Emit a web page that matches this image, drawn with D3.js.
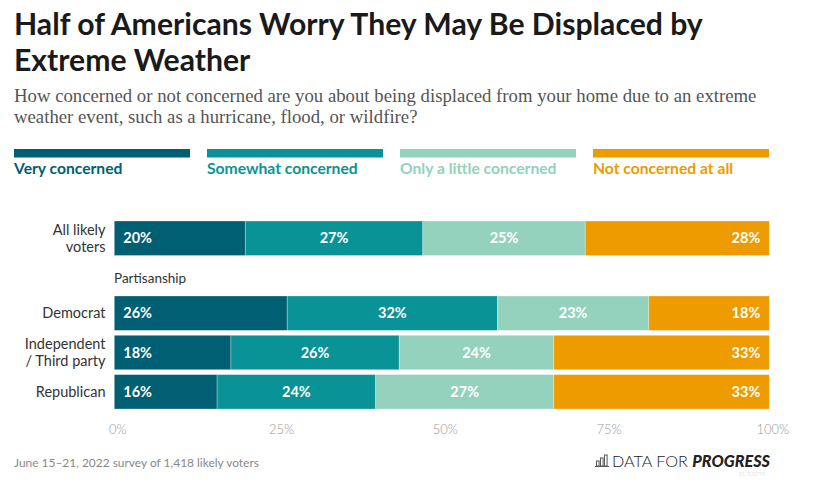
<!DOCTYPE html>
<html>
<head>
<meta charset="utf-8">
<script src="https://cdn.jsdelivr.net/npm/d3@7"></script>
<style>
  html, body { margin: 0; padding: 0; background: #fff; }
  svg { display: block; }
</style>
</head>
<body>
<svg id="chart" width="823" height="504"></svg>
<script>
// ---------- DATA ----------
const titleLines = ["Half of Americans Worry They May Be Displaced by", "Extreme Weather"];
const subtitleLines = [
  "How concerned or not concerned are you about being displaced from your home due to an extreme",
  "weather event, such as a hurricane, flood, or wildfire?"
];
const seriesNames = ["Very concerned", "Somewhat concerned", "Only a little concerned", "Not concerned at all"];
const seriesColors = ["#005f73", "#0a9396", "#94d2bd", "#ee9b00"];
const categories = ["All likely voters", "Democrat", "Independent / Third party", "Republican"];
const categoryLines = [["All likely", "voters"], ["Democrat"], ["Independent", "/ Third party"], ["Republican"]];
const groupOf = ["all", "part", "part", "part"];
const groupLabel = "Partisanship";
const veryConcerned     = [20.0, 26.4, 17.8, 15.7];
const somewhatConcerned = [27.1, 32.1, 25.7, 24.2];
const littleConcerned   = [24.8, 23.1, 23.6, 27.2];
const notConcerned      = [28.1, 18.4, 32.9, 32.9];
const xTicks = [0, 25, 50, 75, 100];
const footnote = "June 15\u201321, 2022 survey of 1,418 likely voters";

const seriesValues = [veryConcerned, somewhatConcerned, littleConcerned, notConcerned];

// ---------- SETUP ----------
const svg = d3.select("#chart");
const sans = "Lato, 'Noto Sans', sans-serif";
const serif = "'Liberation Serif', 'DejaVu Serif', serif";

function fitWidth(sel, target) {
  const n = sel.node();
  const fs = parseFloat(sel.attr("font-size"));
  const w = n.getComputedTextLength();
  if (w > 0) sel.attr("font-size", (fs * target / w).toFixed(2));
  return sel.attr("font-size");
}

// Title
const titleBaselines = [35, 71];
let titleSize = null;
titleLines.forEach((t, i) => {
  const el = svg.append("text")
    .attr("x", 14).attr("y", titleBaselines[i])
    .attr("font-family", sans).attr("font-weight", 700)
    .attr("font-size", titleSize || 25).attr("fill", "#1a1a1a")
    .text(t);
  if (i === 0) titleSize = fitWidth(el, 689);
});

// Subtitle
const subBaselines = [102, 123];
let subSize = null;
subtitleLines.forEach((t, i) => {
  const el = svg.append("text")
    .attr("x", 14).attr("y", subBaselines[i])
    .attr("font-family", serif)
    .attr("font-size", subSize || 16).attr("fill", "#555")
    .text(t);
  if (i === 0) subSize = fitWidth(el, 743);
});

// Legend
const legendX = d3.scaleBand().domain(seriesNames).range([14, 769]).paddingInner(17 / 193);
const legend = svg.append("g");
let legSize = null;
seriesNames.forEach((s, i) => {
  legend.append("rect")
    .attr("x", legendX(s)).attr("y", 149)
    .attr("width", legendX.bandwidth()).attr("height", 8.5)
    .attr("fill", seriesColors[i]);
  const el = legend.append("text")
    .attr("x", legendX(s)).attr("y", 174)
    .attr("font-family", sans).attr("font-weight", 700)
    .attr("font-size", legSize || 14).attr("fill", seriesColors[i])
    .text(s);
  if (i === 0) legSize = fitWidth(el, 108.5);
});

// Scales
const x = d3.scaleLinear().domain([0, 100]).range([114.3, 769.3]);
const yAll = d3.scaleBand().domain(categories.filter((c, i) => groupOf[i] === "all")).range([221, 255.5]);
const yPart = d3.scaleBand().domain(categories.filter((c, i) => groupOf[i] === "part")).range([296, 409]).paddingInner(0.125);
const yOf = (c, i) => groupOf[i] === "all" ? yAll(c) : yPart(c);
const bwOf = (i) => groupOf[i] === "all" ? yAll.bandwidth() : yPart.bandwidth();

// Stack
const rows = categories.map((c, i) => {
  const r = { cat: c };
  seriesNames.forEach((s, j) => r[s] = seriesValues[j][i]);
  return r;
});
const stacked = d3.stack().keys(seriesNames)(rows);

const barsG = svg.append("g");
stacked.forEach((layer, j) => {
  layer.forEach((seg, i) => {
    const y0 = yOf(categories[i], i), bw = bwOf(i);
    barsG.append("rect")
      .attr("x", x(seg[0])).attr("y", y0)
      .attr("width", x(seg[1]) - x(seg[0])).attr("height", bw)
      .attr("fill", seriesColors[j])
      .attr("stroke", "#fff").attr("stroke-opacity", 0.35).attr("stroke-width", 0.8);
    let lx, anchor;
    if (j === 0) { lx = x(seg[0]) + 9; anchor = "start"; }
    else if (j === seriesNames.length - 1) { lx = x(seg[1]) - 9; anchor = "end"; }
    else { lx = (x(seg[0]) + x(seg[1])) / 2; anchor = "middle"; }
    barsG.append("text")
      .attr("x", lx).attr("y", y0 + bw / 2 + 5)
      .attr("text-anchor", anchor)
      .attr("font-family", sans).attr("font-weight", 700)
      .attr("font-size", 14.5).attr("fill", "#fff")
      .text(Math.round(seg[1] - seg[0]) + "%");
  });
});

// Category labels
categories.forEach((c, i) => {
  const lines = categoryLines[i];
  const cy = yOf(c, i) + bwOf(i) / 2;
  const lh = 17;
  lines.forEach((ln, k) => {
    svg.append("text")
      .attr("x", 105.5)
      .attr("y", cy + 5 + (k - (lines.length - 1) / 2) * lh)
      .attr("text-anchor", "end")
      .attr("font-family", sans).attr("font-size", 14.5).attr("fill", "#333")
      .text(ln);
  });
});

// Group label
svg.append("text")
  .attr("x", 114).attr("y", 282.5)
  .attr("font-family", sans).attr("font-size", 13.5).attr("fill", "#333")
  .text(groupLabel);

// X axis (labels only)
const axis = d3.axisBottom(x).tickValues(xTicks).tickFormat(d => d + "%").tickSize(0).tickPadding(0);
const axG = svg.append("g").attr("transform", "translate(3,425)").call(axis);
axG.select(".domain").remove();
axG.selectAll("text")
  .attr("font-family", sans).attr("font-weight", 300)
  .attr("font-size", 13).attr("fill", "#999");

// Footnote
const fn = svg.append("text")
  .attr("x", 14).attr("y", 467)
  .attr("font-family", sans).attr("font-size", 11.5).attr("fill", "#888")
  .text(footnote);
fitWidth(fn, 245);

// Logo
const logo = svg.append("g");
const iconBars = [5, 8, 11];
iconBars.forEach((h, k) => {
  logo.append("rect")
    .attr("x", 596.5 + k * 4).attr("y", 466 - h)
    .attr("width", 2.6).attr("height", h)
    .attr("fill", "none").attr("stroke", "#555").attr("stroke-width", 1);
});
logo.append("line").attr("x1", 595).attr("x2", 609).attr("y1", 466.5).attr("y2", 466.5)
  .attr("stroke", "#555").attr("stroke-width", 1);
const logoText = logo.append("text")
  .attr("x", 612).attr("y", 466.5)
  .attr("font-family", sans).attr("font-size", 15).attr("fill", "#222");
logoText.append("tspan").attr("font-weight", 300).text("DATA FOR ");
logoText.append("tspan").attr("font-weight", 900).attr("font-style", "italic").text("PROGRESS");
fitWidth(logoText, 158);
logo.append("text")
  .attr("x", 752).attr("y", 476)
  .attr("text-anchor", "middle")
  .attr("font-family", sans).attr("font-size", 5).attr("fill", "#e4e4e4")
  .text("ID: 2US77X");
</script>
</body>
</html>
